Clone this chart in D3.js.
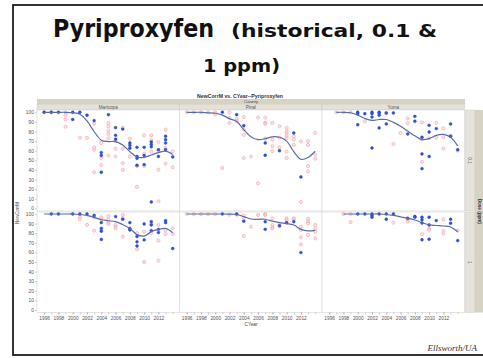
<!DOCTYPE html>
<html>
<head>
<meta charset="utf-8">
<script src="https://cdn.jsdelivr.net/npm/d3@7"></script>
<style>
  body { margin: 0; background: #fff; }
  .axis text { font-family: "Liberation Sans", Arial, sans-serif; font-size: 4.8px; fill: #555; }
  .axis line { stroke: #999; stroke-width: 0.5; }
  .axis path { display: none; }
</style>
</head>
<body>
<div id="chart"></div>
<script>
// categories / ticks
const counties = ["Maricopa", "Pinal", "Yuma"];
const doses = ["0.1", "1"];
const years = d3.range(1996, 2015);
const yearTicks = [1996, 1998, 2000, 2002, 2004, 2006, 2008, 2010, 2012];
const valueTicks = [0, 10, 20, 30, 40, 50, 60, 70, 80, 90, 100];

// ---- dose 0.1 ppm: [year, NewCorrM]
const maricopaLowBlue = [[1996,100],[1997,100],[1998,100],[2000,100],[2000,92.5],[2001,100],[2002,97],[2003,91.3],
  [2004,58],[2004,55],[2004,37.5],[2005,97.5],[2006,84],[2006,76],[2006,72],[2007,82.5],[2008,68],[2008,65.5],[2008,62.5],
  [2009,63.5],[2009,54],[2009,52],[2009,44.8],[2010,63.5],[2010,55],[2010,45.5],[2011,69],[2011,66.5],[2011,64],[2011,6.6],
  [2012,61],[2012,54],[2013,75],[2013,71.5],[2013,68],[2013,61],[2014,53.5]];
const maricopaLowPink = [[1996,100],[1997,100],[1999,100],[1999,97],[1999,92.5],[1999,85],[2001,73.5],[2002,73.5],
  [2003,88],[2003,63.5],[2003,61],[2003,37.5],[2004,68],[2004,52.4],[2004,45],[2005,89],[2005,85.5],[2005,81],[2005,77.5],
  [2005,73],[2005,55],[2006,69.8],[2006,62],[2006,54],[2007,84],[2007,62],[2007,47],[2007,40],[2008,72.5],[2008,54],
  [2009,44],[2009,22.3],[2010,76],[2010,57],[2010,44],[2011,76],[2011,71],[2011,59],[2012,69],[2012,60],[2012,40.3],[2012,7.3],
  [2013,82],[2013,63],[2013,46.5],[2014,59.4],[2014,42.7]];
const maricopaLowFit = [100,100,100,100,99.5,98,91,80,71,69.5,69.5,66,59,53.5,53,55.5,58,59.5,56];

const pinalLowBlue = [[2001,100],[2003,97.5],[2004,86],[2007,68],[2007,55.2],[2009,60],[2011,78.5],[2012,32.6]];
const pinalLowPink = [[1996,100],[1997,100],[1998,100],[1999,100],[2000,100],[2000,98],[2001,42],[2002,100],[2002,94],
  [2002,89],[2003,93],[2003,91],[2004,95],[2004,82],[2004,76.5],[2004,52.4],[2005,54],[2006,94.5],[2006,26],[2007,94.5],
  [2007,89],[2007,88],[2007,72.5],[2008,89],[2008,71.5],[2008,64.6],[2008,59.5],[2009,85.5],[2009,73.5],[2009,63.5],
  [2010,83.7],[2010,80],[2010,78],[2010,75.5],[2010,73],[2010,59],[2010,52.4],[2011,75],[2011,71.5],[2011,66],
  [2012,69.8],[2012,6.6],[2013,69.8],[2013,66],[2013,44],[2013,38.5],[2014,78.5],[2014,56],[2014,51.7]];
const pinalLowFit = [100,100,100,99.5,99,97,93.4,90.5,82,74.5,71.5,72.5,74.5,74,70,59,51,53,59.4];

const yumaLowBlue = [[2000,100],[2000,98.5],[2000,87],[2001,98.5],[2002,100],[2002,98.5],[2002,95],[2002,62.8],
  [2003,100],[2003,99.3],[2003,97],[2003,83.7],[2004,99.3],[2004,87.8],[2005,99.3],[2007,77.4],[2008,95.8],[2008,90.6],
  [2009,74],[2009,56.6],[2009,41.3],[2010,86.4],[2010,79.5],[2010,54],[2011,83],[2013,87.8],[2013,75],[2014,61]];
const yumaLowPink = [[1997,100],[1998,100],[1999,100],[2001,90.6],[2004,99],[2005,67],[2006,78.5],[2007,93.7],[2007,88.5],
  [2009,89.5],[2009,72],[2009,48.3],[2010,73],[2011,89],[2011,73.5],[2012,83.3],[2012,74],[2012,62.3],[2013,75.5],[2014,60]];
const yumaLowFit = [null,100,100,99.5,97,93.5,91.5,92.5,92.5,89.5,85.5,80.5,75.5,71.5,72.5,76,77,74,65];

// ---- dose 1 ppm
const maricopaHighBlue = [[1997,100],[1998,100],[2000,100],[2001,100],[2002,100],[2003,98.5],[2004,91],[2004,85],
  [2004,82],[2004,73.4],[2006,97.3],[2007,94.5],[2008,91],[2008,85],[2008,83.4],[2009,76.5],[2009,71],[2009,66.7],
  [2010,89.6],[2010,73],[2011,92],[2011,88.6],[2011,82.7],[2012,84],[2012,80.6],[2013,93.1],[2013,91],[2014,64]];
const maricopaHighPink = [[2001,97.3],[2001,94.5],[2002,88.6],[2003,96.6],[2003,82.7],[2004,96.6],[2004,94.5],[2005,98],
  [2005,94.5],[2005,91],[2005,89.6],[2006,88.6],[2006,86.8],[2006,85.1],[2007,99],[2007,95.5],[2007,76.4],[2008,84],
  [2009,80],[2009,63.2],[2010,81.6],[2010,50],[2011,89.6],[2011,80],[2012,88.6],[2012,72.3],[2012,51.5],[2013,83.4],
  [2013,79.2],[2014,85],[2014,79.2]];
const maricopaHighFit = [100,100,100,100,100,99.5,98.5,96.5,94,93,92,89,85,78.5,77,81.6,84,85,80.5];

const pinalHighBlue = [[2001,100],[2003,100],[2004,92.5],[2007,92],[2007,84],[2009,87.8],[2010,91],[2011,92],[2012,59.8]];
const pinalHighPink = [[1996,100],[1997,100],[1998,100],[1999,100],[2000,100],[2002,99.3],[2003,99.3],[2004,98.5],
  [2004,96],[2004,77.1],[2005,86.8],[2006,99],[2007,100],[2007,99],[2008,95.5],[2008,88.6],[2008,86],[2008,85],
  [2009,90],[2009,87],[2010,95.5],[2010,93.8],[2010,91],[2011,95.5],[2011,94.5],[2012,86.8],[2012,83.4],[2012,75.7],
  [2012,68.4],[2013,95],[2013,92],[2013,90.3],[2013,78.2],[2014,88.6],[2014,85],[2014,81.6],[2014,74.6]];
const pinalHighFit = [100,100,100,100,100,100,99.8,99.5,97.3,94.8,94.5,94.5,92.5,91,90,88.5,84,82.5,83];

const yumaHighBlue = [[2000,100],[2001,100],[2002,100],[2002,98.5],[2002,96.6],[2003,100],[2004,100],[2004,94.5],
  [2005,100],[2007,95.5],[2008,97.5],[2008,96.6],[2009,96.6],[2009,94],[2009,90.6],[2009,73.1],[2010,96.6],[2010,88.6],
  [2010,73.7],[2011,93.1],[2013,94.5],[2013,90.3],[2014,72.3]];
const yumaHighPink = [[1998,100],[1999,100],[1999,91.5],[2005,91],[2007,94],[2007,92],[2009,79],[2010,85],[2010,83.4],
  [2012,94.5],[2012,82.6],[2012,79.5],[2014,82.7]];
const yumaHighFit = [null,null,100,100,100,100,100,100,99.5,98.5,97,95.5,93.8,91,88.6,88,87.5,86.5,81.5];

const panels = [
  [ {blue: maricopaLowBlue, pink: maricopaLowPink, fit: maricopaLowFit},
    {blue: pinalLowBlue, pink: pinalLowPink, fit: pinalLowFit},
    {blue: yumaLowBlue, pink: yumaLowPink, fit: yumaLowFit} ],
  [ {blue: maricopaHighBlue, pink: maricopaHighPink, fit: maricopaHighFit},
    {blue: pinalHighBlue, pink: pinalHighPink, fit: pinalHighFit},
    {blue: yumaHighBlue, pink: yumaHighPink, fit: yumaHighFit} ]
];

const width = 483, height = 358;
const svg = d3.select("#chart").append("svg")
  .attr("width", width).attr("height", height);

// slide frame
svg.append("rect").attr("x", 13).attr("y", 5).attr("width", 480).attr("height", 350)
  .attr("fill", "none").attr("stroke", "#1e1e1e").attr("stroke-width", 1.8);

// slide title (three separate pieces)
const big = "'DejaVu Sans', Verdana, sans-serif";
svg.append("text").attr("x", 53).attr("y", 37)
  .style("font-family", big).style("font-weight", "bold").style("font-size", "25px").attr("fill", "#111")
  .attr("textLength", 161).attr("lengthAdjust", "spacingAndGlyphs").text("Pyriproxyfen");
svg.append("text").attr("x", 231).attr("y", 37)
  .style("font-family", big).style("font-weight", "bold").style("font-size", "18.5px").attr("fill", "#111")
  .attr("textLength", 206).attr("lengthAdjust", "spacingAndGlyphs").text("(historical, 0.1 &");
svg.append("text").attr("x", 203).attr("y", 72)
  .style("font-family", big).style("font-weight", "bold").style("font-size", "18.5px")
  .attr("fill", "#111").attr("textLength", 77).attr("lengthAdjust", "spacingAndGlyphs").text("1 ppm)");

// layout of the panel grid
const panelLeft = [37, 179.5, 322];
const panelW = 142.5;
const rowTop = [110, 212];
const rowBottom = [211, 312.5];
const yRanges = [[208.3, 112.3], [310, 214]];
const small = "'Liberation Sans', Arial, sans-serif";

svg.append("text").attr("x", 240).attr("y", 98).attr("text-anchor", "middle")
  .style("font-family", small).style("font-size", "5.2px").style("font-weight", "bold").attr("fill", "#333")
  .text("NewCorrM vs. CYear--Pyriproxyfen");

// County header strips
svg.append("rect").attr("x", 37).attr("y", 99).attr("width", 428).attr("height", 5.2).attr("fill", "#d6d3c4");
svg.append("text").attr("x", 251).attr("y", 103.2).attr("text-anchor", "middle")
  .style("font-family", small).style("font-size", "4.4px").attr("fill", "#444").text("County");
counties.forEach((c, i) => {
  svg.append("rect").attr("x", panelLeft[i]).attr("y", 104.2).attr("width", panelW).attr("height", 5.8)
    .attr("fill", "#e4e2d8").attr("stroke", "#c8c5b6").attr("stroke-width", 0.4);
  svg.append("text").attr("x", panelLeft[i] + panelW / 2).attr("y", 108.6).attr("text-anchor", "middle")
    .style("font-family", small).style("font-size", "4.6px").attr("fill", "#555").text(c);
});

// Dose strips on the right
svg.append("rect").attr("x", 474.5).attr("y", rowTop[0]).attr("width", 10).attr("height", rowBottom[1] - rowTop[0])
  .attr("fill", "#d6d3c4");
svg.append("text").attr("transform", `translate(477.5, ${(rowTop[0] + rowBottom[1]) / 2}) rotate(90)`)
  .attr("text-anchor", "middle").style("font-family", small).style("font-size", "4.6px").style("font-weight", "bold")
  .attr("fill", "#333").text("Dose (ppm)");
doses.forEach((d, r) => {
  svg.append("rect").attr("x", 465).attr("y", rowTop[r]).attr("width", 9.5).attr("height", rowBottom[r] - rowTop[r])
    .attr("fill", "#e6e4da").attr("stroke", "#c8c5b6").attr("stroke-width", 0.4);
  svg.append("text").attr("transform", `translate(468, ${(rowTop[r] + rowBottom[r]) / 2}) rotate(90)`)
    .attr("text-anchor", "middle").style("font-family", small).style("font-size", "4.6px").attr("fill", "#444").text(d);
});

const line = d3.line().defined(d => d[1] != null).curve(d3.curveCatmullRom.alpha(0.5));

doses.forEach((d, r) => {
  const y = d3.scaleLinear().domain([0, 100]).range(yRanges[r]);

  // y axis (left of first column)
  svg.append("g").attr("class", "axis")
    .attr("transform", `translate(${panelLeft[0]},0)`)
    .call(d3.axisLeft(y).tickValues(valueTicks).tickSize(2).tickPadding(1.2));

  counties.forEach((c, i) => {
    const x = d3.scaleLinear().domain([1995, 2014.95]).range([panelLeft[i], panelLeft[i] + panelW]);
    const p = panels[r][i];
    const g = svg.append("g");

    g.append("rect").attr("x", panelLeft[i]).attr("y", rowTop[r]).attr("width", panelW)
      .attr("height", rowBottom[r] - rowTop[r]).attr("fill", "#fff").attr("stroke", "#d4d4d4").attr("stroke-width", 0.6);

    // historical points: pink rings
    g.selectAll(".pink").data(p.pink).enter().append("circle")
      .attr("class", "pink")
      .attr("cx", q => x(q[0])).attr("cy", q => y(q[1])).attr("r", 1.55)
      .attr("fill", "rgba(250,210,214,0.5)").attr("stroke", "#f4aab1").attr("stroke-width", 0.75);

    g.selectAll(".blue").data(p.blue).enter().append("circle")
      .attr("class", "blue")
      .attr("cx", q => x(q[0])).attr("cy", q => y(q[1])).attr("r", 1.45)
      .attr("fill", "#2b55dc").attr("stroke", "#2140b4").attr("stroke-width", 0.4);

    // smoother
    g.append("path")
      .datum(years.map((yr, k) => [x(yr), p.fit[k] == null ? null : y(p.fit[k])]))
      .attr("d", line)
      .attr("fill", "none").attr("stroke", "#5a6ca6").attr("stroke-width", 1.2);

    if (r === 1) {
      svg.append("g").attr("class", "axis")
        .attr("transform", `translate(0,${rowBottom[1]})`)
        .call(d3.axisBottom(x).tickValues(years).tickSize(1.8).tickFormat(""));
      svg.append("g").attr("class", "axis")
        .attr("transform", `translate(0,${rowBottom[1]})`)
        .call(d3.axisBottom(x).tickValues(yearTicks).tickSize(1.8).tickPadding(2).tickFormat(d3.format("d")));
    }
  });
});

svg.append("text").attr("transform", "translate(19,213) rotate(-90)").attr("text-anchor", "middle")
  .style("font-family", small).style("font-size", "4.6px").attr("fill", "#444").text("NewCorrM");
svg.append("text").attr("x", 251).attr("y", 325.5).attr("text-anchor", "middle")
  .style("font-family", small).style("font-size", "4.8px").attr("fill", "#444").text("CYear");

svg.append("text").attr("x", 477).attr("y", 351).attr("text-anchor", "end")
  .style("font-family", "'Liberation Serif', 'Times New Roman', serif").style("font-style", "italic")
  .style("font-size", "9px").attr("fill", "#333").text("Ellsworth/UA");
</script>
</body>
</html>
